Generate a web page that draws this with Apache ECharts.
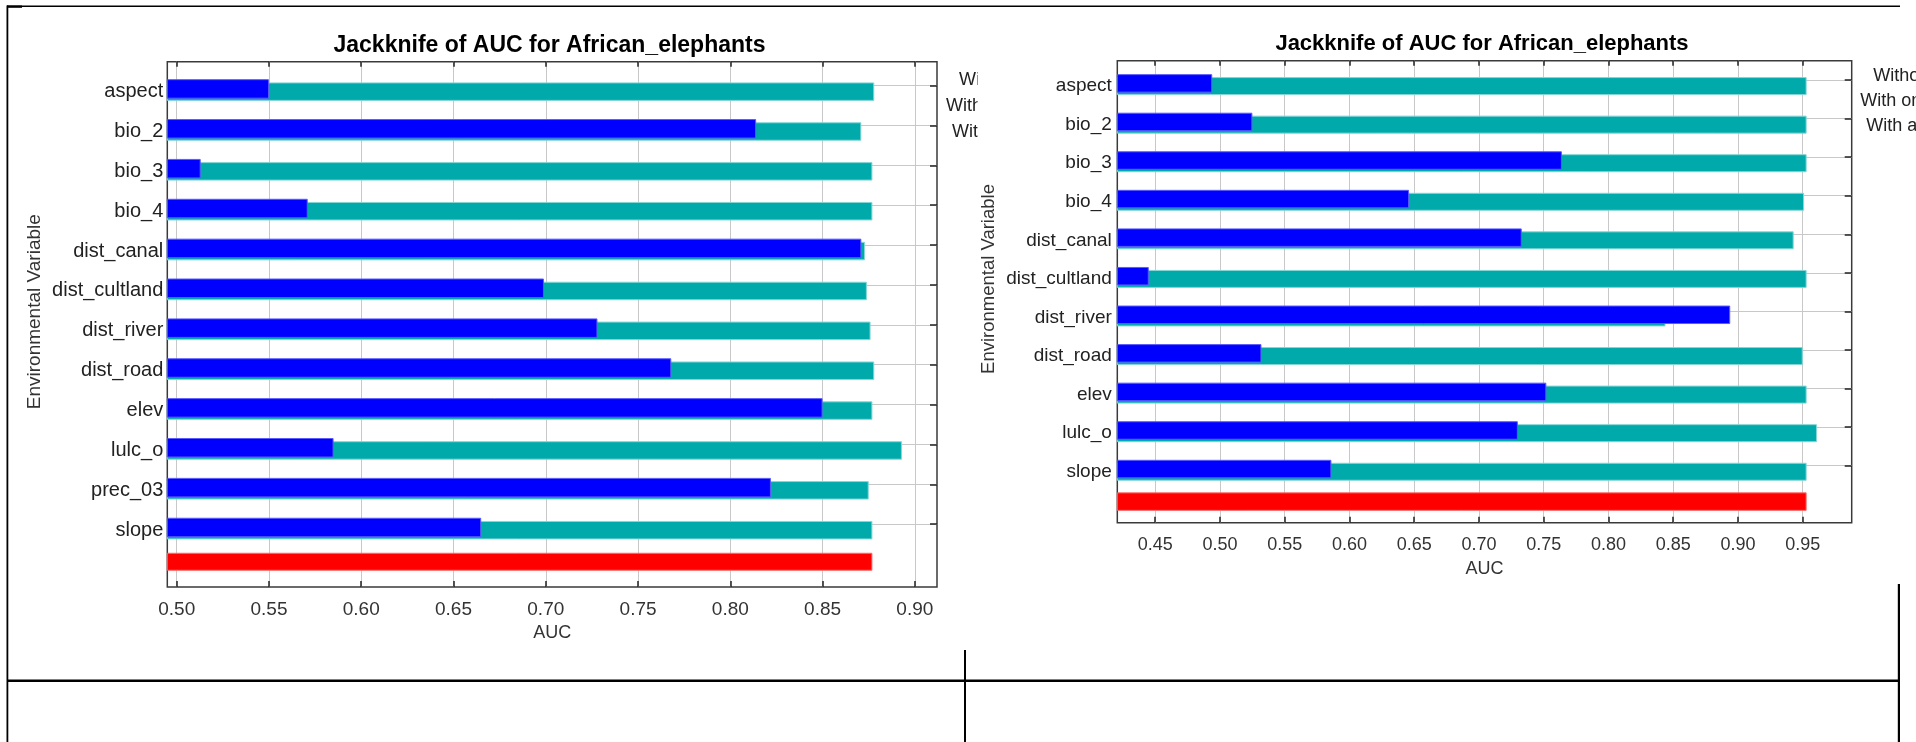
<!DOCTYPE html>
<html>
<head>
<meta charset="utf-8">
<title>Jackknife of AUC for African_elephants</title>
<script src="https://cdn.jsdelivr.net/npm/echarts@6/dist/echarts.min.js"></script>
<style>
  html, body { margin: 0; padding: 0; background: #ffffff; overflow: hidden; }
  #chart { width: 1916px; height: 742px; }
</style>
</head>
<body>
<div id="chart"></div>
<script>
// ---- Jackknife AUC results, first model (12 variables) ----
const leftVariables = ['aspect', 'bio_2', 'bio_3', 'bio_4', 'dist_canal', 'dist_cultland',
  'dist_river', 'dist_road', 'elev', 'lulc_o', 'prec_03', 'slope'];
const leftWithoutVariable = [0.878, 0.871, 0.877, 0.877, 0.873, 0.874, 0.876, 0.878, 0.877, 0.893, 0.875, 0.877];
const leftWithOnlyVariable = [0.550, 0.814, 0.513, 0.571, 0.871, 0.699, 0.728, 0.768, 0.850, 0.585, 0.822, 0.665];
const leftWithAllVariables = 0.877;
const leftAxisTicks = [0.50, 0.55, 0.60, 0.65, 0.70, 0.75, 0.80, 0.85, 0.90];

// ---- Jackknife AUC results, second model (11 variables) ----
const rightVariables = ['aspect', 'bio_2', 'bio_3', 'bio_4', 'dist_canal', 'dist_cultland',
  'dist_river', 'dist_road', 'elev', 'lulc_o', 'slope'];
const rightWithoutVariable = [0.953, 0.953, 0.953, 0.951, 0.943, 0.953, 0.844, 0.950, 0.953, 0.961, 0.953];
const rightWithOnlyVariable = [0.494, 0.525, 0.764, 0.646, 0.733, 0.445, 0.894, 0.532, 0.752, 0.730, 0.586];
const rightWithAllVariables = 0.953;
const rightAxisTicks = [0.45, 0.50, 0.55, 0.60, 0.65, 0.70, 0.75, 0.80, 0.85, 0.90, 0.95];

// ---- Texts ----
const titleText = 'Jackknife of AUC for African_elephants';
const legendLabels = ['Without variable', 'With only variable', 'With all variables'];
const yAxisName = 'Environmental Variable';
const xAxisName = 'AUC';

const datasets = [
  { vars: leftVariables, without: leftWithoutVariable, only: leftWithOnlyVariable, all: leftWithAllVariables, ticks: leftAxisTicks },
  { vars: rightVariables, without: rightWithoutVariable, only: rightWithOnlyVariable, all: rightWithAllVariables, ticks: rightAxisTicks }
];

// ---- Layout of the two panels (pixels) ----
const FONT = '"Liberation Sans", Arial, Helvetica, sans-serif';
const COLOR = { without: '#00aaaa', only: '#0000ff', all: '#ff0000' };
const EDGE = { without: '#86d6d6', only: '#5a5aff', all: '#ff6a6a' };
const GRID_LINE = '#c8c8c8';
const FRAME = '#3a3a3a';
const TICK = '#222222';

const layouts = [
  {
    left: 167.3, top: 61.7, width: 769.7, height: 525.3,
    bandTop: 65.7, bandHeight: 518.3,
    min: 0.4949, max: 0.912,
    shift: { only: 3.3, without: 6.0, all: -2.3 },
    barW: { only: 19.5, without: 18.5, all: 18 },
    fs: { cat: 20, tick: 19, title: 23, name: 19, auc: 18 },
    catMargin: 4, tickMargin: 13, nameGap: 37,
    titleX: 549.5, titleY: 45.5, yNameX: 35, yNameY: 311.7,
    legendX: 1088, legendY: [80, 106.5, 131.7], legendFs: 18
  },
  {
    left: 1117.3, top: 60.7, width: 734.4, height: 462,
    bandTop: 60.7, bandHeight: 462.8,
    min: 0.4207, max: 0.9878,
    shift: { only: 3.4, without: 6.1, all: -2.6 },
    barW: { only: 18.5, without: 18, all: 18.5 },
    fs: { cat: 19, tick: 18, title: 22, name: 18.5, auc: 18 },
    catMargin: 5.5, tickMargin: 13.5, nameGap: 37,
    titleX: 1482, titleY: 43.5, yNameX: 989, yNameY: 279,
    legendX: 2002.3, legendY: [76, 101, 126], legendFs: 18
  }
];

const grid = [], xAxis = [], yAxis = [], series = [], graphic = [];

function addGrid(top, height, p, extra) {
  grid.push(Object.assign({
    left: p.left, top: top, width: p.width, height: height,
    containLabel: false, outerBoundsMode: 'none'
  }, extra || {}));
  return grid.length - 1;
}

function hiddenValueX(g, p) {
  xAxis.push({ gridIndex: g, type: 'value', min: p.min, max: p.max, show: false });
  return xAxis.length - 1;
}

layouts.forEach(function (p, k) {
  const d = datasets[k];
  const cats = d.vars.concat(['']);
  const rows = d.vars.map(function (_, i) { return i; });

  // Frame with AUC axes (bottom with labels, top with ticks only)
  const gF = addGrid(p.top, p.height, p, { show: true, borderColor: FRAME, borderWidth: 1.5, backgroundColor: 'rgba(0,0,0,0)' });
  xAxis.push({
    gridIndex: gF, type: 'value', min: p.min, max: p.max, position: 'bottom',
    axisLine: { show: false },
    axisTick: { show: true, inside: true, length: 6, customValues: d.ticks, lineStyle: { color: TICK, width: 1.5 } },
    axisLabel: {
      show: true, customValues: d.ticks, formatter: function (v) { return v.toFixed(2); },
      fontSize: p.fs.tick, fontFamily: FONT, color: '#333', margin: p.tickMargin
    },
    splitLine: { show: true, lineStyle: { color: GRID_LINE, width: 1 } },
    name: xAxisName, nameLocation: 'middle', nameGap: p.nameGap,
    nameTextStyle: { fontSize: p.fs.auc, fontFamily: FONT, color: '#333' }
  });
  xAxis.push({
    gridIndex: gF, type: 'value', min: p.min, max: p.max, position: 'top',
    axisLine: { show: false },
    axisTick: { show: true, inside: true, length: 5, customValues: d.ticks, lineStyle: { color: TICK, width: 1.5 } },
    axisLabel: { show: false }, splitLine: { show: false }
  });
  yAxis.push({ gridIndex: gF, type: 'value', show: false });

  // Row ticks on the right edge and horizontal row lines
  const gC = addGrid(p.bandTop, p.bandHeight, p);
  hiddenValueX(gC, p);
  yAxis.push({
    gridIndex: gC, type: 'value', min: -0.5, max: cats.length - 0.5, inverse: true, position: 'right',
    axisLine: { show: false },
    axisTick: { show: true, inside: true, length: 7, customValues: rows, lineStyle: { color: TICK, width: 1.5 } },
    axisLabel: { show: false },
    splitLine: { show: true, lineStyle: { color: GRID_LINE, width: 1 } }
  });

  // "Without variable" bars plus the variable names
  const gT = addGrid(p.bandTop + p.shift.without, p.bandHeight, p);
  const xT = hiddenValueX(gT, p);
  yAxis.push({
    gridIndex: gT, type: 'category', data: cats, inverse: true, z: 10,
    axisLine: { show: false }, axisTick: { show: false }, splitLine: { show: false },
    axisLabel: { interval: 0, fontSize: p.fs.cat, fontFamily: FONT, color: '#222', margin: p.catMargin }
  });
  series.push({
    type: 'bar', name: legendLabels[0], xAxisIndex: xT, yAxisIndex: yAxis.length - 1,
    data: d.without.concat([null]), barWidth: p.barW.without, z: 2, silent: true,
    itemStyle: { color: COLOR.without, borderColor: EDGE.without, borderWidth: 1 }
  });

  // "With only variable" bars
  const gB = addGrid(p.bandTop + p.shift.only, p.bandHeight, p);
  const xB = hiddenValueX(gB, p);
  yAxis.push({ gridIndex: gB, type: 'category', data: cats, inverse: true, show: false });
  series.push({
    type: 'bar', name: legendLabels[1], xAxisIndex: xB, yAxisIndex: yAxis.length - 1,
    data: d.only.concat([null]), barWidth: p.barW.only, z: 3, silent: true,
    itemStyle: { color: COLOR.only, borderColor: EDGE.only, borderWidth: 1 }
  });

  // "With all variables" bar in the last row
  const gR = addGrid(p.bandTop + p.shift.all, p.bandHeight, p);
  const xR = hiddenValueX(gR, p);
  yAxis.push({ gridIndex: gR, type: 'category', data: cats, inverse: true, show: false });
  series.push({
    type: 'bar', name: legendLabels[2], xAxisIndex: xR, yAxisIndex: yAxis.length - 1,
    data: cats.map(function (_, i) { return i === cats.length - 1 ? d.all : null; }),
    barWidth: p.barW.all, z: 3, silent: true,
    itemStyle: { color: COLOR.all, borderColor: EDGE.all, borderWidth: 1 }
  });

  // Title and rotated axis name
  graphic.push({
    type: 'text', x: p.titleX, y: p.titleY, silent: true,
    style: {
      text: titleText, fill: '#000', font: 'bold ' + p.fs.title + 'px ' + FONT,
      align: 'center', verticalAlign: 'middle', textAlign: 'center', textVerticalAlign: 'middle'
    }
  });
  graphic.push({
    type: 'text', x: p.yNameX, y: p.yNameY, rotation: Math.PI / 2, silent: true,
    style: {
      text: yAxisName, fill: '#333', font: p.fs.name + 'px ' + FONT,
      align: 'center', verticalAlign: 'middle', textAlign: 'center', textVerticalAlign: 'middle'
    }
  });

  // Legend labels at the right of each panel
  legendLabels.forEach(function (lab, i) {
    graphic.push({
      type: 'text', x: p.legendX, y: p.legendY[i], z: 0, silent: true,
      style: {
        text: lab, fill: '#222', font: p.legendFs + 'px ' + FONT,
        align: 'right', verticalAlign: 'middle', textAlign: 'right', textVerticalAlign: 'middle'
      }
    });
  });
});

// The first panel's legend is cut at the edge of its box
graphic.push({ type: 'rect', x: 977.6, y: 60, z: 1, silent: true, shape: { width: 122, height: 90 }, style: { fill: '#ffffff' } });

// Table rules around the panels
[
  { x: 7, y: 5.5, w: 1893, h: 1.6 },
  { x: 7, y: 5.5, w: 15, h: 2.3 },
  { x: 6.5, y: 5.5, w: 1.8, h: 737 },
  { x: 7, y: 679.5, w: 1893, h: 2.5 },
  { x: 964, y: 650, w: 2, h: 92 },
  { x: 1897.8, y: 584, w: 2.2, h: 158 }
].forEach(function (r) {
  graphic.push({ type: 'rect', x: r.x, y: r.y, z: 5, silent: true, shape: { width: r.w, height: r.h }, style: { fill: '#000' } });
});

const chart = echarts.init(document.getElementById('chart'), null, { renderer: 'canvas' });
chart.setOption({
  animation: false,
  backgroundColor: '#ffffff',
  grid: grid,
  xAxis: xAxis,
  yAxis: yAxis,
  series: series,
  graphic: { elements: graphic }
});
</script>
</body>
</html>
